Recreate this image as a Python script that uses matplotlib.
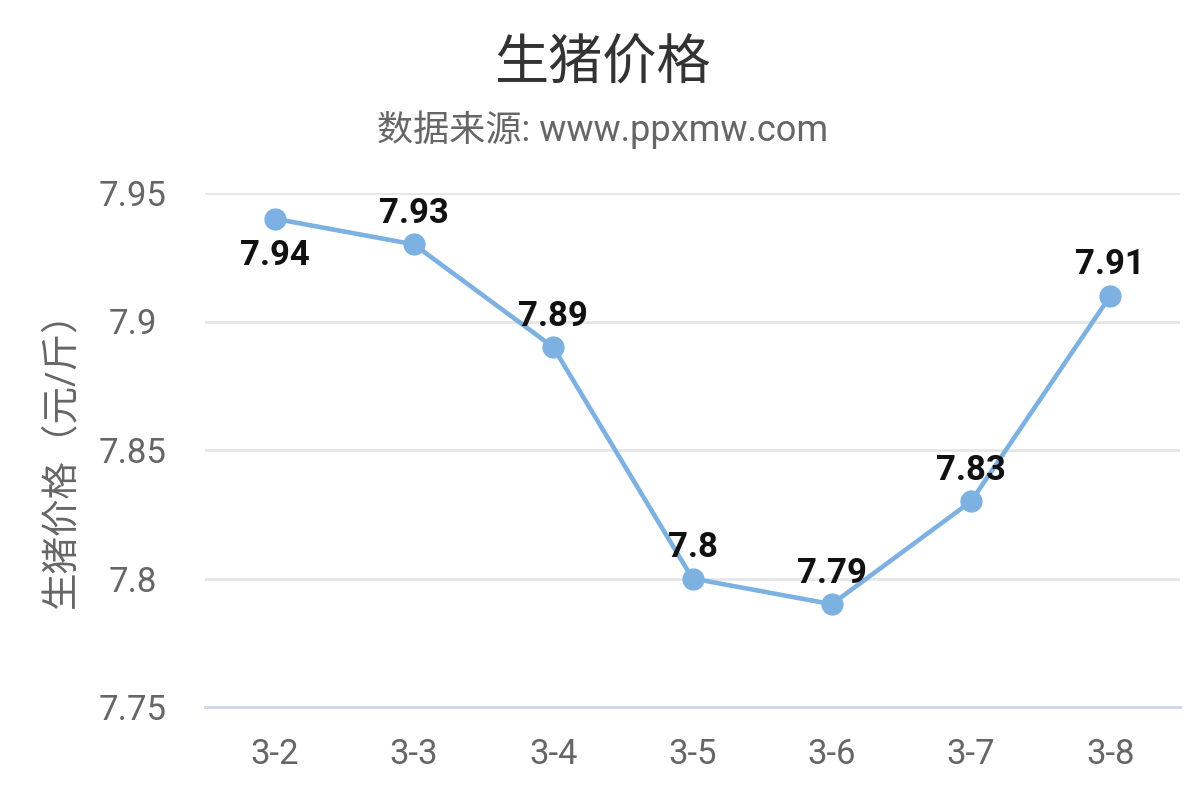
import numpy as np
import matplotlib
matplotlib.use('Agg')
import matplotlib.pyplot as plt

plt.rcParams['font.family'] = ['Roboto', 'Noto Sans CJK SC', 'DejaVu Sans']

dates = ['3-2', '3-3', '3-4', '3-5', '3-6', '3-7', '3-8']
prices = [7.94, 7.93, 7.89, 7.8, 7.79, 7.83, 7.91]
label_below = [True, False, False, False, False, False, False]
y_ticks = [7.75, 7.8, 7.85, 7.9, 7.95]
y_tick_labels = ['7.75', '7.8', '7.85', '7.9', '7.95']

line_color = '#7cb1e2'

fig = plt.figure(figsize=(11.97, 8), dpi=100, facecolor='w')
ax = fig.add_axes([205/1197, 93/800, 975/1197, 514/800])

x = np.arange(len(dates))
ax.plot(x, prices, color=line_color, linewidth=3.3, marker='o', markersize=15,
        markerfacecolor=line_color, markeredgecolor=line_color, zorder=3)

for xi, yi, below in zip(x, prices, label_below):
    off = -37 if below else 31
    ax.annotate(f'{yi:g}', (xi, yi), xytext=(0, off), textcoords='offset pixels',
                ha='center', va='center', fontsize=25, fontweight='bold', color='#111111', zorder=4)

ax.set_xlim(-0.5, len(dates) - 0.5)
ax.set_ylim(7.75, 7.95)
ax.set_xticks(x)
ax.set_xticklabels(dates)
ax.set_yticks(y_ticks)
ax.set_yticklabels(y_tick_labels)
ax.tick_params(axis='both', length=0, labelsize=25, colors='#666666')
ax.tick_params(axis='x', pad=22)
ax.tick_params(axis='y', pad=52)
for lbl in ax.get_yticklabels():
    lbl.set_horizontalalignment('center')

ax.grid(axis='y', color='#e6e6e6', linewidth=2)
ax.set_axisbelow(True)
for s in ['top', 'right', 'left']:
    ax.spines[s].set_visible(False)
ax.spines['bottom'].set_color('#ccd6eb')
ax.spines['bottom'].set_linewidth(2)

ax.set_ylabel('生猪价格（元/斤）', fontsize=27, color='#666666', labelpad=14)

fig.text(0.503, 1 - 65/800, '生猪价格', ha='center', va='center', fontsize=39, color='#333333')
fig.text(0.503, 1 - 130/800, '数据来源: www.ppxmw.com', ha='center', va='center', fontsize=26, color='#666666')

fig.savefig('out.png', dpi=100)
